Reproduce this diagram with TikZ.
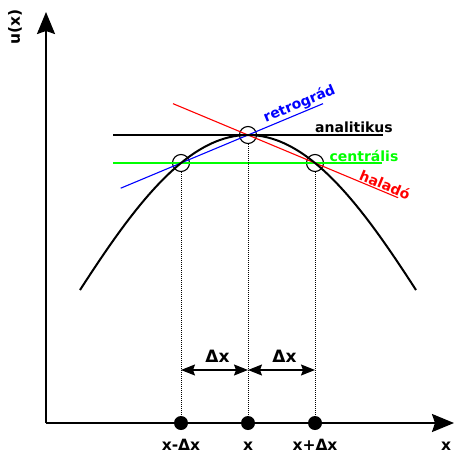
\documentclass[tikz,border=0pt]{standalone}
\usepackage{fontspec}
\setmainfont{DejaVu Sans}
\usetikzlibrary{arrows.meta,calc,positioning}

\tikzset{
  ring/.style={circle, draw, line width=1.1pt, minimum size=17pt, inner sep=0pt},
  dot/.style={circle, fill, minimum size=14pt, inner sep=0pt},
  lbl/.style={font=\bfseries\fontsize{14}{16}\selectfont, inner sep=1pt},
  axlbl/.style={font=\bfseries\fontsize{15.5}{18}\selectfont, inner sep=1pt},
  steplbl/.style={font=\bfseries\fontsize{17}{20}\selectfont, inner sep=1pt},
  guide/.style={densely dotted, line width=1pt},
  axis/.style={line width=2pt, -{Stealth[length=22pt,width=18pt,inset=3pt]}},
  dim/.style={line width=1.2pt, {Stealth[length=14pt,width=11pt,inset=2pt]}-{Stealth[length=14pt,width=11pt,inset=2pt]}},
}

\begin{document}
\begin{tikzpicture}[x=1pt, y=-1pt]
  \useasboundingbox (0,0) rectangle (455,453);
  % Axes
  \coordinate (o) at (46,423);
  \coordinate (xend) at (454,423);
  \coordinate (yend) at (46,12);
  \draw[axis] (o) -- (xend);
  \draw[axis] (o) -- (yend);
  \node[axlbl, rotate=90] (ulbl) at (15,27) {u(x)};
  \node[axlbl, anchor=base] (xlbl) at (446,450) {x};
  % Points on the x axis
  \node[dot] (xm) at (181,423) {};
  \node[dot] (x0) at (248,423) {};
  \node[dot] (xp) at (315,423) {};
  \node[axlbl, anchor=base] (lm) at (181,450) {x-Δx};
  \node[axlbl, anchor=base] (l0) at (248,450) {x};
  \node[axlbl, anchor=base] (lp) at (315,450) {x+Δx};
  % Points on the curve
  \node[ring] (cm) at (181,163) {};
  \node[ring] (c0) at (248,135) {};
  \node[ring] (cp) at (315,163) {};
  % Line ends
  \coordinate (as) at (113,135);
  \coordinate (ae) at (383,135);
  \coordinate (gs) at (113,163);
  \coordinate (ge) at (382,163);
  \coordinate (bs) at ($(cm)!-0.9!(c0)$);
  \coordinate (be) at ($(cm)!2.12!(c0)$);
  \coordinate (rs) at ($(c0)!-1.12!(cp)$);
  \coordinate (re) at ($(c0)!2.24!(cp)$);
  % Lines
  \draw[line width=1.1pt] (as) -- (ae);
  \draw[green, line width=1.1pt] (gs) -- (ge);
  \draw[blue, line width=1.1pt] (bs) -- (be)
    node[lbl, sloped, above, pos=0.9] (retro) {retrográd};
  \draw[red, line width=1.1pt] (rs) -- (re)
    node[lbl, sloped, above, pos=0.93] (halado) {haladó};
  \node[lbl, anchor=base] (anal) at (354,132) {analitikus};
  \node[lbl, anchor=base, green] (centr) at (364,161) {centrális};
  % Curve
  \draw[line width=2pt] plot[domain=80:416, samples=80, smooth]
    (\x, {135 + 63.79*((\x-248)/100)^2 - 3.142*((\x-248)/100)^4});
  % Guides
  \draw[guide] (cm) -- (xm);
  \draw[guide] (c0) -- (x0);
  \draw[guide] (cp) -- (xp);
  % Steps
  \coordinate (dm) at (181,370);
  \coordinate (d0) at (248,370);
  \coordinate (dp) at (315,370);
  \draw[dim] (dm) -- (d0) node[steplbl, midway, above=6pt, xshift=3pt] (dxl) {Δx};
  \draw[dim] (d0) -- (dp) node[steplbl, midway, above=6pt, xshift=3pt] (dxr) {Δx};
\end{tikzpicture}
\end{document}
